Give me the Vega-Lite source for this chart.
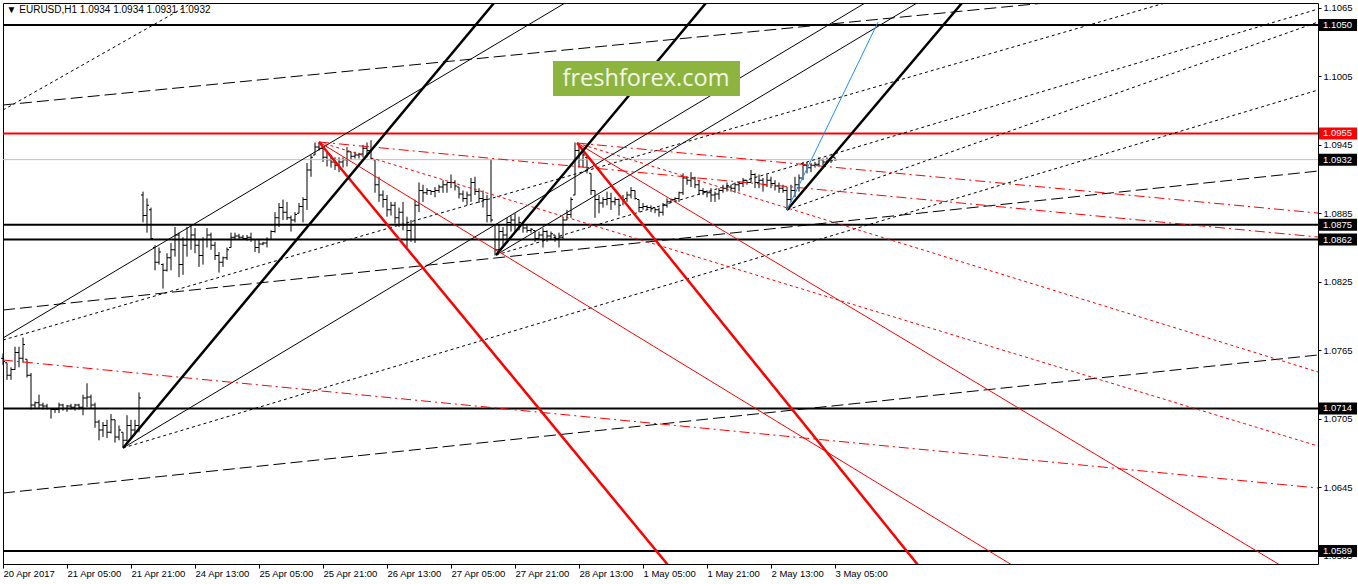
{
"$schema":"https://vega.github.io/schema/vega-lite/v6.json",
"width":1315,"height":561,"autosize":{"type":"none"},
"padding":{"left":3,"top":3,"right":40,"bottom":20},
"background":"white",
"config":{"view":{"stroke":"black","strokeWidth":1},"axis":{"labelFont":"Liberation Sans","labelFontSize":9.5,"labelColor":"black","tickColor":"black","grid":false,"domain":false}},
"datasets":{
"bars":[
{"i":0,"o":1.0758,"h":1.0762,"l":1.0752,"c":1.0755},
{"i":1,"o":1.0754,"h":1.0754,"l":1.0739,"c":1.0743},
{"i":2,"o":1.0743,"h":1.0750,"l":1.0739,"c":1.0748},
{"i":3,"o":1.0748,"h":1.0768,"l":1.0748,"c":1.0763},
{"i":4,"o":1.0763,"h":1.0768,"l":1.0750,"c":1.0758},
{"i":5,"o":1.0758,"h":1.0776,"l":1.0754,"c":1.0770},
{"i":6,"o":1.0757,"h":1.0757,"l":1.0741,"c":1.0743},
{"i":7,"o":1.0743,"h":1.0745,"l":1.0713,"c":1.0717},
{"i":8,"o":1.0717,"h":1.0720,"l":1.0714,"c":1.0719},
{"i":9,"o":1.0719,"h":1.0726,"l":1.0714,"c":1.0717},
{"i":10,"o":1.0717,"h":1.0719,"l":1.0713,"c":1.0716},
{"i":11,"o":1.0716,"h":1.0718,"l":1.0713,"c":1.0714},
{"i":12,"o":1.0714,"h":1.0714,"l":1.0705,"c":1.0713},
{"i":13,"o":1.0713,"h":1.0714,"l":1.0710,"c":1.0713},
{"i":14,"o":1.0713,"h":1.0719,"l":1.0710,"c":1.0717},
{"i":15,"o":1.0717,"h":1.0718,"l":1.0712,"c":1.0714},
{"i":16,"o":1.0714,"h":1.0717,"l":1.0711,"c":1.0716},
{"i":17,"o":1.0716,"h":1.0718,"l":1.0713,"c":1.0715},
{"i":18,"o":1.0715,"h":1.0718,"l":1.0712,"c":1.0717},
{"i":19,"o":1.0717,"h":1.0718,"l":1.0713,"c":1.0715},
{"i":20,"o":1.0715,"h":1.0726,"l":1.0708,"c":1.0723},
{"i":21,"o":1.0723,"h":1.0736,"l":1.0715,"c":1.0724},
{"i":22,"o":1.0724,"h":1.0726,"l":1.0714,"c":1.0717},
{"i":23,"o":1.0717,"h":1.0719,"l":1.0697,"c":1.0702},
{"i":24,"o":1.0702,"h":1.0704,"l":1.0686,"c":1.0695},
{"i":25,"o":1.0695,"h":1.0702,"l":1.0689,"c":1.0699},
{"i":26,"o":1.0699,"h":1.0704,"l":1.0688,"c":1.0693},
{"i":27,"o":1.0693,"h":1.0709,"l":1.0692,"c":1.0704},
{"i":28,"o":1.0704,"h":1.0704,"l":1.0684,"c":1.0689},
{"i":29,"o":1.0689,"h":1.0699,"l":1.0686,"c":1.0695},
{"i":30,"o":1.0693,"h":1.0693,"l":1.0680,"c":1.0686},
{"i":31,"o":1.0686,"h":1.0708,"l":1.0685,"c":1.0699},
{"i":32,"o":1.0699,"h":1.0704,"l":1.0688,"c":1.0695},
{"i":33,"o":1.0695,"h":1.0704,"l":1.0691,"c":1.0699},
{"i":34,"o":1.0699,"h":1.0728,"l":1.0693,"c":1.0723},
{"i":35,"o":1.0901,"h":1.0904,"l":1.0877,"c":1.0883},
{"i":36,"o":1.0883,"h":1.0898,"l":1.0868,"c":1.0892},
{"i":37,"o":1.0888,"h":1.0890,"l":1.0862,"c":1.0863},
{"i":38,"o":1.0855,"h":1.0857,"l":1.0835,"c":1.0842},
{"i":39,"o":1.0842,"h":1.0855,"l":1.0840,"c":1.0851},
{"i":40,"o":1.0840,"h":1.0841,"l":1.0819,"c":1.0835},
{"i":41,"o":1.0835,"h":1.0850,"l":1.0834,"c":1.0846},
{"i":42,"o":1.0846,"h":1.0859,"l":1.0835,"c":1.0853},
{"i":43,"o":1.0853,"h":1.0873,"l":1.0847,"c":1.0866},
{"i":44,"o":1.0866,"h":1.0868,"l":1.0829,"c":1.0840},
{"i":45,"o":1.0840,"h":1.0864,"l":1.0831,"c":1.0857},
{"i":46,"o":1.0857,"h":1.0873,"l":1.0847,"c":1.0862},
{"i":47,"o":1.0862,"h":1.0875,"l":1.0853,"c":1.0866},
{"i":48,"o":1.0866,"h":1.0872,"l":1.0850,"c":1.0857},
{"i":49,"o":1.0857,"h":1.0862,"l":1.0838,"c":1.0848},
{"i":50,"o":1.0848,"h":1.0864,"l":1.0840,"c":1.0862},
{"i":51,"o":1.0862,"h":1.0872,"l":1.0855,"c":1.0866},
{"i":52,"o":1.0866,"h":1.0868,"l":1.0853,"c":1.0857},
{"i":53,"o":1.0857,"h":1.0860,"l":1.0844,"c":1.0848},
{"i":54,"o":1.0848,"h":1.0851,"l":1.0833,"c":1.0842},
{"i":55,"o":1.0842,"h":1.0847,"l":1.0838,"c":1.0846},
{"i":56,"o":1.0846,"h":1.0855,"l":1.0844,"c":1.0853},
{"i":57,"o":1.0855,"h":1.0868,"l":1.0855,"c":1.0864},
{"i":58,"o":1.0864,"h":1.0868,"l":1.0862,"c":1.0865},
{"i":59,"o":1.0865,"h":1.0867,"l":1.0862,"c":1.0864},
{"i":60,"o":1.0864,"h":1.0866,"l":1.0862,"c":1.0863},
{"i":61,"o":1.0863,"h":1.0866,"l":1.0861,"c":1.0864},
{"i":62,"o":1.0864,"h":1.0868,"l":1.0860,"c":1.0862},
{"i":63,"o":1.0862,"h":1.0862,"l":1.0851,"c":1.0855},
{"i":64,"o":1.0855,"h":1.0862,"l":1.0850,"c":1.0858},
{"i":65,"o":1.0858,"h":1.0860,"l":1.0857,"c":1.0859},
{"i":66,"o":1.0859,"h":1.0864,"l":1.0855,"c":1.0862},
{"i":67,"o":1.0862,"h":1.0870,"l":1.0862,"c":1.0869},
{"i":68,"o":1.0869,"h":1.0886,"l":1.0868,"c":1.0881},
{"i":69,"o":1.0881,"h":1.0894,"l":1.0873,"c":1.0890},
{"i":70,"o":1.0890,"h":1.0897,"l":1.0879,"c":1.0886},
{"i":71,"o":1.0886,"h":1.0895,"l":1.0879,"c":1.0881},
{"i":72,"o":1.0881,"h":1.0883,"l":1.0869,"c":1.0879},
{"i":73,"o":1.0879,"h":1.0886,"l":1.0877,"c":1.0884},
{"i":74,"o":1.0885,"h":1.0894,"l":1.0885,"c":1.0891},
{"i":75,"o":1.0891,"h":1.0899,"l":1.0877,"c":1.0897},
{"i":76,"o":1.0897,"h":1.0929,"l":1.0888,"c":1.0923},
{"i":77,"o":1.0923,"h":1.0936,"l":1.0917,"c":1.0934},
{"i":78,"o":1.0936,"h":1.0947,"l":1.0936,"c":1.0943},
{"i":79,"o":1.0943,"h":1.0947,"l":1.0940,"c":1.0942},
{"i":80,"o":1.0942,"h":1.0943,"l":1.0930,"c":1.0934},
{"i":81,"o":1.0934,"h":1.0938,"l":1.0926,"c":1.0932},
{"i":82,"o":1.0932,"h":1.0936,"l":1.0925,"c":1.0930},
{"i":83,"o":1.0930,"h":1.0934,"l":1.0923,"c":1.0927},
{"i":84,"o":1.0927,"h":1.0934,"l":1.0921,"c":1.0930},
{"i":85,"o":1.0930,"h":1.0934,"l":1.0925,"c":1.0932},
{"i":86,"o":1.0932,"h":1.0943,"l":1.0926,"c":1.0939},
{"i":87,"o":1.0939,"h":1.0939,"l":1.0932,"c":1.0935},
{"i":88,"o":1.0935,"h":1.0939,"l":1.0933,"c":1.0936},
{"i":89,"o":1.0936,"h":1.0938,"l":1.0933,"c":1.0937},
{"i":90,"o":1.0937,"h":1.0945,"l":1.0934,"c":1.0942},
{"i":91,"o":1.0942,"h":1.0947,"l":1.0936,"c":1.0940},
{"i":92,"o":1.0940,"h":1.0949,"l":1.0932,"c":1.0933},
{"i":93,"o":1.0932,"h":1.0932,"l":1.0903,"c":1.0910},
{"i":94,"o":1.0910,"h":1.0917,"l":1.0895,"c":1.0901},
{"i":95,"o":1.0901,"h":1.0905,"l":1.0890,"c":1.0897},
{"i":96,"o":1.0897,"h":1.0901,"l":1.0882,"c":1.0888},
{"i":97,"o":1.0888,"h":1.0895,"l":1.0883,"c":1.0892},
{"i":98,"o":1.0892,"h":1.0895,"l":1.0876,"c":1.0881},
{"i":99,"o":1.0881,"h":1.0890,"l":1.0873,"c":1.0886},
{"i":100,"o":1.0886,"h":1.0895,"l":1.0870,"c":1.0875},
{"i":101,"o":1.0875,"h":1.0882,"l":1.0855,"c":1.0870},
{"i":102,"o":1.0870,"h":1.0879,"l":1.0860,"c":1.0875},
{"i":103,"o":1.0875,"h":1.0897,"l":1.0859,"c":1.0892},
{"i":104,"o":1.0892,"h":1.0912,"l":1.0886,"c":1.0905},
{"i":105,"o":1.0905,"h":1.0910,"l":1.0895,"c":1.0903},
{"i":106,"o":1.0903,"h":1.0907,"l":1.0901,"c":1.0905},
{"i":107,"o":1.0905,"h":1.0905,"l":1.0901,"c":1.0904},
{"i":108,"o":1.0904,"h":1.0908,"l":1.0899,"c":1.0905},
{"i":109,"o":1.0905,"h":1.0910,"l":1.0903,"c":1.0908},
{"i":110,"o":1.0908,"h":1.0914,"l":1.0903,"c":1.0910},
{"i":111,"o":1.0910,"h":1.0912,"l":1.0903,"c":1.0912},
{"i":112,"o":1.0912,"h":1.0919,"l":1.0907,"c":1.0912},
{"i":113,"o":1.0912,"h":1.0914,"l":1.0905,"c":1.0909},
{"i":114,"o":1.0908,"h":1.0908,"l":1.0898,"c":1.0902},
{"i":115,"o":1.0902,"h":1.0905,"l":1.0895,"c":1.0898},
{"i":116,"o":1.0898,"h":1.0904,"l":1.0892,"c":1.0901},
{"i":117,"o":1.0901,"h":1.0916,"l":1.0895,"c":1.0912},
{"i":118,"o":1.0912,"h":1.0917,"l":1.0901,"c":1.0904},
{"i":119,"o":1.0904,"h":1.0907,"l":1.0894,"c":1.0898},
{"i":120,"o":1.0898,"h":1.0905,"l":1.0890,"c":1.0897},
{"i":121,"o":1.0897,"h":1.0901,"l":1.0877,"c":1.0883},
{"i":122,"o":1.0883,"h":1.0932,"l":1.0877,"c":1.0879},
{"i":123,"o":1.0875,"h":1.0875,"l":1.0848,"c":1.0853},
{"i":124,"o":1.0853,"h":1.0875,"l":1.0853,"c":1.0869},
{"i":125,"o":1.0869,"h":1.0873,"l":1.0857,"c":1.0866},
{"i":126,"o":1.0866,"h":1.0881,"l":1.0862,"c":1.0877},
{"i":127,"o":1.0877,"h":1.0883,"l":1.0869,"c":1.0879},
{"i":128,"o":1.0879,"h":1.0885,"l":1.0868,"c":1.0875},
{"i":129,"o":1.0875,"h":1.0882,"l":1.0870,"c":1.0877},
{"i":130,"o":1.0876,"h":1.0876,"l":1.0868,"c":1.0872},
{"i":131,"o":1.0872,"h":1.0875,"l":1.0868,"c":1.0870},
{"i":132,"o":1.0870,"h":1.0872,"l":1.0868,"c":1.0871},
{"i":133,"o":1.0870,"h":1.0870,"l":1.0860,"c":1.0863},
{"i":134,"o":1.0863,"h":1.0869,"l":1.0862,"c":1.0866},
{"i":135,"o":1.0866,"h":1.0872,"l":1.0855,"c":1.0869},
{"i":136,"o":1.0869,"h":1.0870,"l":1.0860,"c":1.0865},
{"i":137,"o":1.0865,"h":1.0869,"l":1.0862,"c":1.0867},
{"i":138,"o":1.0866,"h":1.0866,"l":1.0860,"c":1.0863},
{"i":139,"o":1.0863,"h":1.0868,"l":1.0855,"c":1.0864},
{"i":140,"o":1.0864,"h":1.0882,"l":1.0862,"c":1.0879},
{"i":141,"o":1.0879,"h":1.0888,"l":1.0879,"c":1.0884},
{"i":142,"o":1.0884,"h":1.0899,"l":1.0881,"c":1.0897},
{"i":143,"o":1.0901,"h":1.0947,"l":1.0901,"c":1.0940},
{"i":144,"o":1.0940,"h":1.0945,"l":1.0925,"c":1.0932},
{"i":145,"o":1.0932,"h":1.0942,"l":1.0925,"c":1.0936},
{"i":146,"o":1.0934,"h":1.0934,"l":1.0920,"c":1.0925},
{"i":147,"o":1.0920,"h":1.0920,"l":1.0901,"c":1.0905},
{"i":148,"o":1.0905,"h":1.0905,"l":1.0881,"c":1.0897},
{"i":149,"o":1.0897,"h":1.0901,"l":1.0885,"c":1.0894},
{"i":150,"o":1.0894,"h":1.0899,"l":1.0890,"c":1.0897},
{"i":151,"o":1.0897,"h":1.0904,"l":1.0892,"c":1.0898},
{"i":152,"o":1.0898,"h":1.0903,"l":1.0888,"c":1.0895},
{"i":153,"o":1.0895,"h":1.0899,"l":1.0892,"c":1.0897},
{"i":154,"o":1.0897,"h":1.0898,"l":1.0883,"c":1.0892},
{"i":155,"o":1.0898,"h":1.0901,"l":1.0892,"c":1.0897},
{"i":156,"o":1.0898,"h":1.0904,"l":1.0895,"c":1.0901},
{"i":157,"o":1.0901,"h":1.0908,"l":1.0898,"c":1.0905},
{"i":158,"o":1.0905,"h":1.0905,"l":1.0897,"c":1.0898},
{"i":159,"o":1.0897,"h":1.0897,"l":1.0886,"c":1.0890},
{"i":160,"o":1.0890,"h":1.0894,"l":1.0888,"c":1.0891},
{"i":161,"o":1.0891,"h":1.0892,"l":1.0888,"c":1.0890},
{"i":162,"o":1.0890,"h":1.0892,"l":1.0886,"c":1.0889},
{"i":163,"o":1.0890,"h":1.0890,"l":1.0885,"c":1.0888},
{"i":164,"o":1.0888,"h":1.0890,"l":1.0882,"c":1.0886},
{"i":165,"o":1.0886,"h":1.0894,"l":1.0883,"c":1.0892},
{"i":166,"o":1.0892,"h":1.0898,"l":1.0890,"c":1.0895},
{"i":167,"o":1.0895,"h":1.0898,"l":1.0894,"c":1.0897},
{"i":168,"o":1.0897,"h":1.0899,"l":1.0895,"c":1.0898},
{"i":169,"o":1.0898,"h":1.0904,"l":1.0895,"c":1.0903},
{"i":170,"o":1.0903,"h":1.0920,"l":1.0901,"c":1.0916},
{"i":171,"o":1.0916,"h":1.0917,"l":1.0910,"c":1.0914},
{"i":172,"o":1.0914,"h":1.0921,"l":1.0908,"c":1.0916},
{"i":173,"o":1.0916,"h":1.0917,"l":1.0907,"c":1.0910},
{"i":174,"o":1.0910,"h":1.0914,"l":1.0901,"c":1.0905},
{"i":175,"o":1.0905,"h":1.0907,"l":1.0901,"c":1.0904},
{"i":176,"o":1.0904,"h":1.0905,"l":1.0899,"c":1.0903},
{"i":177,"o":1.0903,"h":1.0907,"l":1.0895,"c":1.0901},
{"i":178,"o":1.0901,"h":1.0904,"l":1.0895,"c":1.0902},
{"i":179,"o":1.0902,"h":1.0907,"l":1.0897,"c":1.0905},
{"i":180,"o":1.0905,"h":1.0910,"l":1.0903,"c":1.0907},
{"i":181,"o":1.0907,"h":1.0912,"l":1.0904,"c":1.0908},
{"i":182,"o":1.0908,"h":1.0910,"l":1.0904,"c":1.0907},
{"i":183,"o":1.0907,"h":1.0912,"l":1.0903,"c":1.0910},
{"i":184,"o":1.0910,"h":1.0912,"l":1.0904,"c":1.0911},
{"i":185,"o":1.0911,"h":1.0916,"l":1.0908,"c":1.0914},
{"i":186,"o":1.0914,"h":1.0914,"l":1.0910,"c":1.0912},
{"i":187,"o":1.0912,"h":1.0923,"l":1.0912,"c":1.0919},
{"i":188,"o":1.0919,"h":1.0920,"l":1.0907,"c":1.0912},
{"i":189,"o":1.0912,"h":1.0919,"l":1.0907,"c":1.0914},
{"i":190,"o":1.0914,"h":1.0916,"l":1.0904,"c":1.0910},
{"i":191,"o":1.0910,"h":1.0919,"l":1.0908,"c":1.0914},
{"i":192,"o":1.0914,"h":1.0917,"l":1.0907,"c":1.0911},
{"i":193,"o":1.0911,"h":1.0914,"l":1.0905,"c":1.0909},
{"i":194,"o":1.0909,"h":1.0912,"l":1.0903,"c":1.0907},
{"i":195,"o":1.0907,"h":1.0910,"l":1.0903,"c":1.0905},
{"i":196,"o":1.0905,"h":1.0908,"l":1.0888,"c":1.0897},
{"i":197,"o":1.0897,"h":1.0910,"l":1.0895,"c":1.0905},
{"i":198,"o":1.0905,"h":1.0917,"l":1.0899,"c":1.0910},
{"i":199,"o":1.0910,"h":1.0919,"l":1.0904,"c":1.0916},
{"i":200,"o":1.0916,"h":1.0930,"l":1.0914,"c":1.0927},
{"i":201,"o":1.0927,"h":1.0930,"l":1.0920,"c":1.0925},
{"i":202,"o":1.0925,"h":1.0929,"l":1.0921,"c":1.0927},
{"i":203,"o":1.0927,"h":1.0930,"l":1.0925,"c":1.0928},
{"i":204,"o":1.0928,"h":1.0934,"l":1.0926,"c":1.0932},
{"i":205,"o":1.0932,"h":1.0933,"l":1.0927,"c":1.0930},
{"i":206,"o":1.0930,"h":1.0934,"l":1.0929,"c":1.0932},
{"i":207,"o":1.0932,"h":1.0934,"l":1.0929,"c":1.0931},
{"i":208,"o":1.0934,"h":1.0934,"l":1.0931,"c":1.0932}
],
"hBlack":[{"p":1.105,"a":0,"b":328.75},{"p":1.0875,"a":0,"b":328.75},{"p":1.0862,"a":0,"b":328.75},{"p":1.0714,"a":0,"b":328.75},{"p":1.0589,"a":0,"b":328.75}],
"hRed":[{"p":1.0955,"a":0,"b":328.75}],
"hGray":[{"p":1.0932,"a":0,"b":328.75}],
"thickBlack":[{"x1":30,"y1":1.06793,"x2":122.75,"y2":1.10693},{"x1":123.25,"y1":1.08484,"x2":175.75,"y2":1.10693},{"x1":196,"y1":1.08879,"x2":239.75,"y2":1.10693}],
"thinBlack":[{"x1":0,"y1":1.07757,"x2":140.5,"y2":1.10693},{"x1":30,"y1":1.06793,"x2":215.5,"y2":1.10693},{"x1":123.25,"y1":1.08484,"x2":228.5,"y2":1.10693}],
"dotBlack":[{"x1":0,"y1":1.09755,"x2":47.25,"y2":1.10693},{"x1":30,"y1":1.06793,"x2":328.75,"y2":1.0993},{"x1":123.25,"y1":1.08484,"x2":328.75,"y2":1.1064},{"x1":196,"y1":1.08879,"x2":328.75,"y2":1.10526},{"x1":0,"y1":1.07739,"x2":290.5,"y2":1.10693}],
"dashBlack":[{"x1":0,"y1":1.09799,"x2":260.5,"y2":1.10693},{"x1":0,"y1":1.08002,"x2":328.75,"y2":1.0922},{"x1":0,"y1":1.06398,"x2":328.75,"y2":1.07608}],
"thickRed":[{"x1":79,"y1":1.09475,"x2":166.25,"y2":1.05767},{"x1":143.5,"y1":1.09466,"x2":228.75,"y2":1.05767}],
"thinRed":[{"x1":79,"y1":1.09475,"x2":252.25,"y2":1.05767},{"x1":143.5,"y1":1.09466,"x2":319.25,"y2":1.05767}],
"dotRed":[{"x1":79,"y1":1.09475,"x2":328.75,"y2":1.0681},{"x1":143.5,"y1":1.09466,"x2":328.75,"y2":1.07459}],
"dashRed":[{"x1":79,"y1":1.09475,"x2":328.75,"y2":1.08642},{"x1":143.5,"y1":1.09466,"x2":328.75,"y2":1.08852},{"x1":0,"y1":1.07564,"x2":328.75,"y2":1.06442}],
"blue":[{"x1":196,"y1":1.08879,"x2":218.75,"y2":1.10526}],
"logo":[{"t":"freshforex.com","x1":137.5,"x2":184.25,"y1":1.10184,"y2":1.09878,"xc":160.75,"yc":1.10027}],
"head":[{"t":"▼ EURUSD,H1  1.0934 1.0934 1.0931 1.0932","x":0.9,"y":1.10631}],
"blackLabels":[{"p":1.105,"a":329,"b":338.5,"tx":330},{"p":1.0932,"a":329,"b":338.5,"tx":330},{"p":1.0875,"a":329,"b":338.5,"tx":330},{"p":1.0862,"a":329,"b":338.5,"tx":330},{"p":1.0714,"a":329,"b":338.5,"tx":330},{"p":1.0589,"a":329,"b":338.5,"tx":330}],
"redLabels":[{"p":1.0955,"a":329,"b":338.5,"tx":330}]
},
"layer":[
{"data":{"name":"bars"},"mark":{"type":"rule","color":"black","strokeWidth":1},
 "encoding":{
  "x":{"field":"i","type":"quantitative","title":null,"scale":{"domain":[0,328.75],"zero":false,"nice":false},
   "axis":{"orient":"bottom","values":[0,16,32,48,64,80,96,112,128,144,160,176,192,208],"labelExpr":"['20 Apr 2017','21 Apr 05:00','21 Apr 21:00','24 Apr 13:00','25 Apr 05:00','25 Apr 21:00','26 Apr 13:00','27 Apr 05:00','27 Apr 21:00','28 Apr 13:00','1 May 05:00','1 May 21:00','2 May 13:00','3 May 05:00'][round(datum.value/16)]","labelAlign":"left","labelPadding":0,"tickSize":4,"labelOverlap":false,"labelBound":false,"labelFlush":false}},
  "y":{"field":"h","type":"quantitative","title":null,"scale":{"domain":[1.05776,1.10693],"zero":false,"nice":false},
   "axis":{"orient":"right","values":[1.1065,1.1035,1.1005,1.0975,1.0945,1.0915,1.0885,1.0855,1.0825,1.0795,1.0765,1.0735,1.0705,1.0675,1.0645,1.0615,1.0585],"format":".4f","tickSize":3,"labelPadding":2,"labelBaseline":"middle"}},
  "y2":{"field":"l"}}},
{"data":{"name":"bars"},"mark":{"type":"tick","orient":"horizontal","color":"black","size":2,"thickness":1,"xOffset":-1,"opacity":1},
 "encoding":{"x":{"field":"i","type":"quantitative"},"y":{"field":"o","type":"quantitative"}}},
{"data":{"name":"bars"},"mark":{"type":"tick","orient":"horizontal","color":"black","size":2,"thickness":1,"xOffset":1,"opacity":1},
 "encoding":{"x":{"field":"i","type":"quantitative"},"y":{"field":"c","type":"quantitative"}}},
{"data":{"name":"hBlack"},"mark":{"type":"rule","color":"black","strokeWidth":2},
 "encoding":{"y":{"field":"p","type":"quantitative"},"x":{"field":"a","type":"quantitative"},"x2":{"field":"b"}}},
{"data":{"name":"hRed"},"mark":{"type":"rule","color":"#ff0000","strokeWidth":2},
 "encoding":{"y":{"field":"p","type":"quantitative"},"x":{"field":"a","type":"quantitative"},"x2":{"field":"b"}}},
{"data":{"name":"hGray"},"mark":{"type":"rule","color":"#c0c0c0","strokeWidth":1},
 "encoding":{"y":{"field":"p","type":"quantitative"},"x":{"field":"a","type":"quantitative"},"x2":{"field":"b"}}},
{"data":{"name":"thinBlack"},"mark":{"type":"rule","color":"black","strokeWidth":1,"clip":true},
 "encoding":{"x":{"field":"x1","type":"quantitative"},"y":{"field":"y1","type":"quantitative"},"x2":{"field":"x2"},"y2":{"field":"y2"}}},
{"data":{"name":"dotBlack"},"mark":{"type":"rule","color":"black","strokeWidth":1,"strokeDash":[3,3],"clip":true},
 "encoding":{"x":{"field":"x1","type":"quantitative"},"y":{"field":"y1","type":"quantitative"},"x2":{"field":"x2"},"y2":{"field":"y2"}}},
{"data":{"name":"dashBlack"},"mark":{"type":"rule","color":"black","strokeWidth":1,"strokeDash":[12,5],"clip":true},
 "encoding":{"x":{"field":"x1","type":"quantitative"},"y":{"field":"y1","type":"quantitative"},"x2":{"field":"x2"},"y2":{"field":"y2"}}},
{"data":{"name":"thinRed"},"mark":{"type":"rule","color":"#ff0000","strokeWidth":1,"clip":true},
 "encoding":{"x":{"field":"x1","type":"quantitative"},"y":{"field":"y1","type":"quantitative"},"x2":{"field":"x2"},"y2":{"field":"y2"}}},
{"data":{"name":"dotRed"},"mark":{"type":"rule","color":"#ff0000","strokeWidth":1,"strokeDash":[3,3],"clip":true},
 "encoding":{"x":{"field":"x1","type":"quantitative"},"y":{"field":"y1","type":"quantitative"},"x2":{"field":"x2"},"y2":{"field":"y2"}}},
{"data":{"name":"dashRed"},"mark":{"type":"rule","color":"#ff0000","strokeWidth":1,"strokeDash":[10,4,2,4],"clip":true},
 "encoding":{"x":{"field":"x1","type":"quantitative"},"y":{"field":"y1","type":"quantitative"},"x2":{"field":"x2"},"y2":{"field":"y2"}}},
{"data":{"name":"thickRed"},"mark":{"type":"rule","color":"#ff0000","strokeWidth":2.5,"clip":true},
 "encoding":{"x":{"field":"x1","type":"quantitative"},"y":{"field":"y1","type":"quantitative"},"x2":{"field":"x2"},"y2":{"field":"y2"}}},
{"data":{"name":"thickBlack"},"mark":{"type":"rule","color":"black","strokeWidth":2.5,"clip":true},
 "encoding":{"x":{"field":"x1","type":"quantitative"},"y":{"field":"y1","type":"quantitative"},"x2":{"field":"x2"},"y2":{"field":"y2"}}},
{"data":{"name":"blue"},"mark":{"type":"rule","color":"#1e90ff","strokeWidth":1,"clip":true},
 "encoding":{"x":{"field":"x1","type":"quantitative"},"y":{"field":"y1","type":"quantitative"},"x2":{"field":"x2"},"y2":{"field":"y2"}}},
{"data":{"name":"logo"},"mark":{"type":"rect","color":"#8cb43f"},
 "encoding":{"x":{"field":"x1","type":"quantitative"},"x2":{"field":"x2"},"y":{"field":"y1","type":"quantitative"},"y2":{"field":"y2"}}},
{"data":{"name":"logo"},"mark":{"type":"text","color":"#f4f6ec","font":"Open Sans","fontSize":23.5,"align":"center","baseline":"middle"},
 "encoding":{"text":{"field":"t","type":"nominal"},"x":{"field":"xc","type":"quantitative"},"y":{"field":"yc","type":"quantitative"}}},
{"data":{"name":"head"},"mark":{"type":"text","color":"black","font":"Liberation Sans","fontSize":10,"align":"left","baseline":"middle"},
 "encoding":{"text":{"field":"t","type":"nominal"},"x":{"field":"x","type":"quantitative"},"y":{"field":"y","type":"quantitative"}}},
{"data":{"name":"blackLabels"},"mark":{"type":"rule","color":"black","strokeWidth":12,"strokeCap":"butt"},
 "encoding":{"y":{"field":"p","type":"quantitative"},"x":{"field":"a","type":"quantitative"},"x2":{"field":"b"}}},
{"data":{"name":"redLabels"},"mark":{"type":"rule","color":"#ff0000","strokeWidth":12,"strokeCap":"butt"},
 "encoding":{"y":{"field":"p","type":"quantitative"},"x":{"field":"a","type":"quantitative"},"x2":{"field":"b"}}},
{"data":{"name":"blackLabels"},"mark":{"type":"text","color":"white","font":"Liberation Sans","fontSize":9.5,"align":"left","baseline":"middle"},
 "encoding":{"y":{"field":"p","type":"quantitative"},"x":{"field":"tx","type":"quantitative"},"text":{"field":"p","type":"quantitative","format":".4f"}}},
{"data":{"name":"redLabels"},"mark":{"type":"text","color":"white","font":"Liberation Sans","fontSize":9.5,"align":"left","baseline":"middle"},
 "encoding":{"y":{"field":"p","type":"quantitative"},"x":{"field":"tx","type":"quantitative"},"text":{"field":"p","type":"quantitative","format":".4f"}}}
]
}
